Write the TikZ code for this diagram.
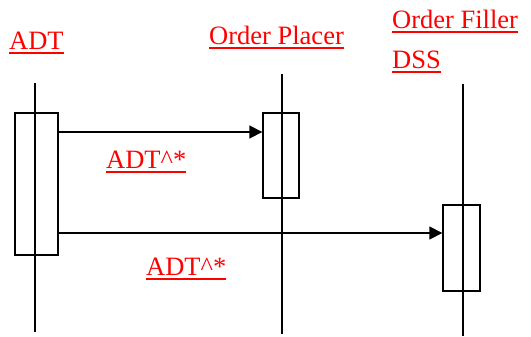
\documentclass[tikz,border=0pt]{standalone}
\usepackage{fontspec}
\setmainfont{Liberation Serif}
\usetikzlibrary{arrows.meta,positioning,calc}

\newcommand{\redline}[1]{\setbox0\hbox{#1}\rlap{\color{red}\vrule height -3.2bp depth 4.8bp width \wd0}\box0}

\begin{document}
\begin{tikzpicture}[
  x=1bp, y=-1bp,
  lbl/.style={anchor=base west, inner sep=0pt, text=red, font=\fontsize{26.6}{32}\selectfont},
  act/.style={draw, line width=1.4bp, inner sep=0pt, minimum width=37bp},
  life/.style={line width=1.6bp},
  msg/.style={-{Triangle[length=13bp,width=13bp]}, line width=1.6bp}
]
\useasboundingbox (0,0) rectangle (531,336);

% lifeline ends
\coordinate (adttop) at (35,83);
\coordinate (adtbot) at (35,332);
\coordinate (placertop) at (282,74);
\coordinate (placerbot) at (282,334);
\coordinate (fillertop) at (463,84);
\coordinate (fillerbot) at (463,336);

\foreach \x in {adt,placer,filler} {
  \draw[life] (\x top) -- (\x bot);
}

% activation boxes
\node[act, minimum width=43bp, minimum height=142bp] (adtact) at (36.5,184) {};
\node[act, minimum width=36bp, minimum height=85bp] (placeract) at (281,155.5) {};
\node[act, minimum height=86bp] (filleract) at (461.5,248) {};

% headers
\node[lbl] (adtname) at (9,49) {\redline{ADT}};
\node[lbl] (placername) at (209,44) {\redline{Order Placer}};
\node[lbl] (fillername) at (392,28) {\redline{Order Filler}};
\node[lbl] (dssname) at (392,68) {\redline{DSS}};

% messages
\coordinate (m1) at (0,132);
\coordinate (m2) at (0,233);
\draw[msg] (adtact.east |- m1) -- (placeract.west |- m1);
\draw[msg] (adtact.east |- m2) -- (filleract.west |- m2);
\node[lbl] (msgone) at (106,168) {\redline{ADT\textasciicircum*}};
\node[lbl] (msgtwo) at (146,275) {\redline{ADT\textasciicircum*}};

\end{tikzpicture}
\end{document}
